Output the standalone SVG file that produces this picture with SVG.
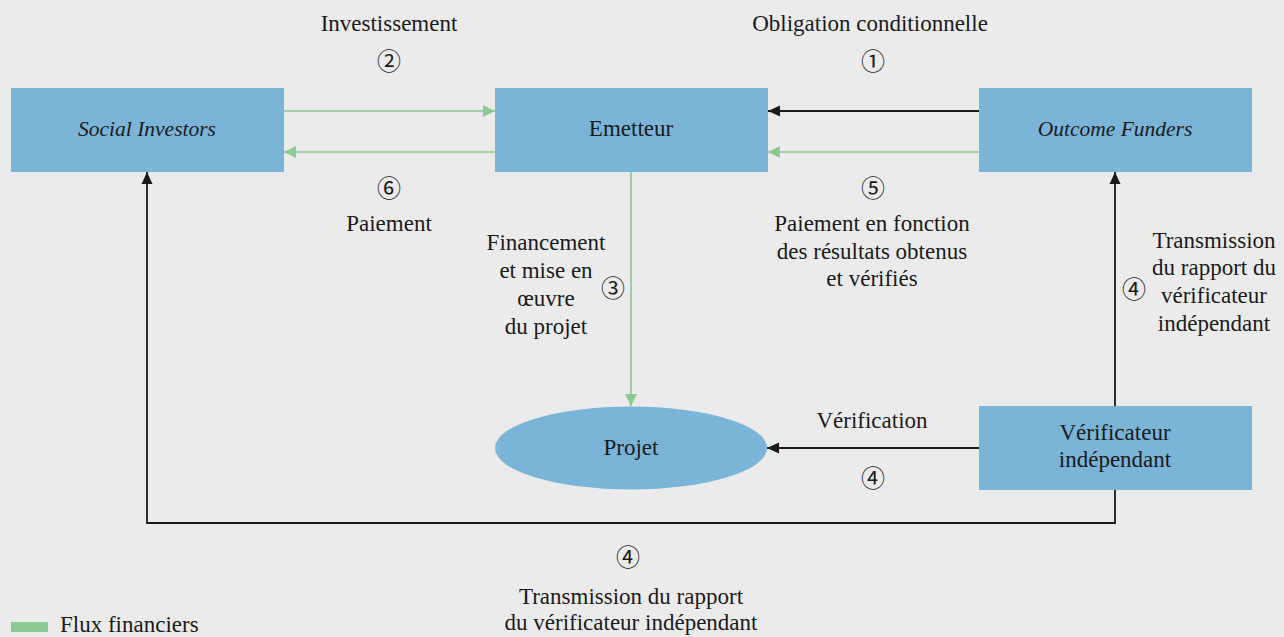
<svg xmlns="http://www.w3.org/2000/svg" width="1284" height="637" viewBox="0 0 1284 637">
<style>
.bg{fill:#ebebeb}
.box{fill:#7ab4d8}
.t{font-family:"Liberation Serif","Times New Roman",serif;font-size:23px;fill:#1a1a1a;text-anchor:middle}
.it{font-style:italic;font-size:21.5px}
.num{font-family:"Noto Sans CJK JP","DejaVu Sans",sans-serif;font-size:24px;fill:#1a1a1a;text-anchor:middle}
.g{stroke:#8cc994;stroke-width:1.7;fill:none}
.k{stroke:#1a1a1a;stroke-width:1.8;fill:none}
</style>
<defs>
<marker id="ag" markerUnits="userSpaceOnUse" markerWidth="12" markerHeight="12" refX="12" refY="6" orient="auto"><path d="M0,0 L12,6 L0,12 z" fill="#8cc994"/></marker>
<marker id="ak" markerUnits="userSpaceOnUse" markerWidth="12" markerHeight="12" refX="12" refY="6" orient="auto"><path d="M0,0.5 L12,6 L0,11.5 z" fill="#1a1a1a"/></marker>
</defs>
<rect class="bg" x="0" y="0" width="1284" height="637"/>
<g id="connectors">
<path class="g" d="M284,111 H495" marker-end="url(#ag)"/>
<path class="g" d="M495,152 H284" marker-end="url(#ag)"/>
<path class="k" d="M979,111 H768" marker-end="url(#ak)"/>
<path class="g" d="M979,152 H768" marker-end="url(#ag)"/>
<path class="g" d="M631,172 V406" marker-end="url(#ag)"/>
<path class="k" d="M979,448 H767" marker-end="url(#ak)"/>
<path class="k" d="M1115,406 V172" marker-end="url(#ak)"/>
<path class="k" d="M1115,490 V523 H147 V172" marker-end="url(#ak)"/>
</g>
<g id="social-investors">
<rect class="box" x="11" y="88" width="273" height="84"/>
<text class="t it" x="147" y="136">Social Investors</text>
</g>
<g id="emetteur">
<rect class="box" x="495" y="88" width="273" height="84"/>
<text class="t" x="631" y="136">Emetteur</text>
</g>
<g id="outcome-funders">
<rect class="box" x="979" y="88" width="273" height="84"/>
<text class="t it" x="1115" y="136">Outcome Funders</text>
</g>
<g id="projet">
<ellipse class="box" cx="631" cy="448" rx="136" ry="41.5"/>
<text class="t" x="631" y="455">Projet</text>
</g>
<g id="verificateur">
<rect class="box" x="979" y="406" width="273" height="84"/>
<text class="t" x="1115" y="440">Vérificateur</text>
<text class="t" x="1115" y="467">indépendant</text>
</g>
<g id="labels">
<text class="t" x="389" y="31">Investissement</text>
<text class="num" x="389" y="70">②</text>
<text class="t" x="870" y="31">Obligation conditionnelle</text>
<text class="num" x="873" y="70">①</text>
<text class="num" x="389" y="197">⑥</text>
<text class="t" x="389" y="231">Paiement</text>
<text class="num" x="873" y="197">⑤</text>
<text class="t" x="872" y="231">Paiement en fonction</text>
<text class="t" x="872" y="259">des résultats obtenus</text>
<text class="t" x="872" y="286">et vérifiés</text>
<text class="t" x="546" y="250">Financement</text>
<text class="t" x="546" y="278">et mise en</text>
<text class="t" x="546" y="306">œuvre</text>
<text class="t" x="546" y="334">du projet</text>
<text class="num" x="613" y="297">③</text>
<text class="t" x="1214" y="248">Transmission</text>
<text class="t" x="1214" y="275">du rapport du</text>
<text class="t" x="1214" y="303">vérificateur</text>
<text class="t" x="1214" y="331">indépendant</text>
<text class="num" x="1134" y="298">④</text>
<text class="t" x="872" y="428">Vérification</text>
<text class="num" x="873" y="487">④</text>
<text class="num" x="628" y="566">④</text>
<text class="t" x="631" y="604">Transmission du rapport</text>
<text class="t" x="631" y="630">du vérificateur indépendant</text>
</g>
<g id="legend">
<rect x="11" y="622" width="37" height="10" fill="#8cc994"/>
<text class="t" x="60" y="632" style="text-anchor:start">Flux financiers</text>
</g>
</svg>
